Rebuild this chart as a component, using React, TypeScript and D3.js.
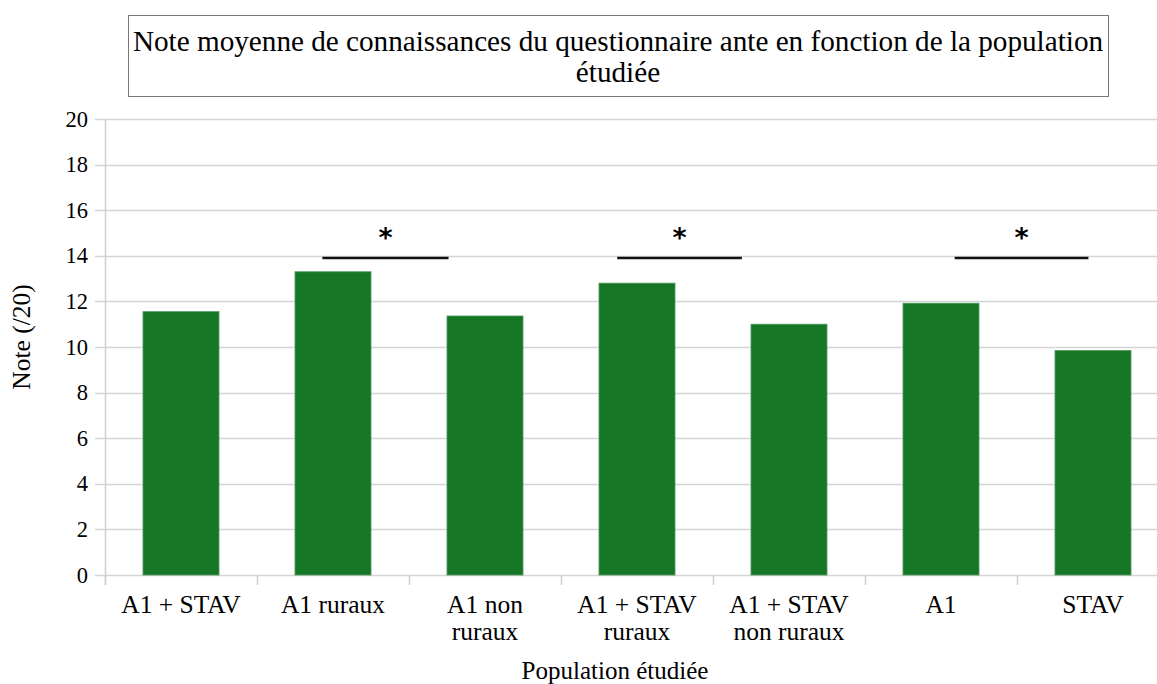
import React, { useEffect, useRef } from "react";
import * as d3 from "d3";

const categories = [
  ["A1 + STAV"],
  ["A1 ruraux"],
  ["A1 non", "ruraux"],
  ["A1 + STAV", "ruraux"],
  ["A1 + STAV", "non ruraux"],
  ["A1"],
  ["STAV"],
];
const notes = [11.55, 13.3, 11.36, 12.8, 11.0, 11.92, 9.85];
const yTicks = [0, 2, 4, 6, 8, 10, 12, 14, 16, 18, 20];
// significance bars, in category units (0 = left edge of the first band)
const sigFrom = [1.43, 3.37, 5.59];
const sigTo = [2.26, 4.19, 6.47];
const sigLevel = 13.9;

const titleLines = [
  "Note moyenne de connaissances du questionnaire ante en fonction de la population",
  "étudiée",
];

const W = 1157;
const H = 684;
const serif = "'Liberation Serif', 'Times New Roman', serif";

export default function App() {
  const ref = useRef<SVGSVGElement>(null);

  useEffect(() => {
    const svg = d3.select(ref.current);
    svg.selectAll("*").remove();

    const left = 105;
    const bandW = 152;
    const top = 119;
    const bottom = 575;
    const right = left + bandW * categories.length;

    const x = d3
      .scaleBand<number>()
      .domain(d3.range(categories.length))
      .range([left, right])
      .paddingInner(0.5)
      .paddingOuter(0.25);
    const xi = d3.scaleLinear().domain([0, categories.length]).range([left, right]);
    const y = d3.scaleLinear().domain([0, 20]).range([bottom, top]);

    // title box
    svg
      .append("rect")
      .attr("x", 128.5)
      .attr("y", 15.5)
      .attr("width", 980)
      .attr("height", 81)
      .attr("fill", "white")
      .attr("stroke", "#777")
      .attr("stroke-width", 1);
    titleLines.forEach((t, i) => {
      svg
        .append("text")
        .attr("x", 618)
        .attr("y", 51 + i * 31)
        .attr("text-anchor", "middle")
        .attr("font-family", serif)
        .attr("font-size", 29.2)
        .text(t);
    });

    // grid
    svg
      .append("g")
      .selectAll("line")
      .data(yTicks)
      .join("line")
      .attr("x1", left - 10)
      .attr("x2", W)
      .attr("y1", (d) => Math.round(y(d)) + 0.5)
      .attr("y2", (d) => Math.round(y(d)) + 0.5)
      .attr("stroke", "#d4d4d4")
      .attr("stroke-width", 1.5);

    // y axis line
    svg
      .append("line")
      .attr("x1", left + 0.5)
      .attr("x2", left + 0.5)
      .attr("y1", top)
      .attr("y2", bottom + 10)
      .attr("stroke", "#cfcfcf")
      .attr("stroke-width", 1.5);

    // x ticks at band boundaries
    svg
      .append("g")
      .selectAll("line")
      .data(d3.range(categories.length + 1))
      .join("line")
      .attr("x1", (d) => Math.round(xi(d)) + 0.5)
      .attr("x2", (d) => Math.round(xi(d)) + 0.5)
      .attr("y1", bottom)
      .attr("y2", bottom + 10)
      .attr("stroke", "#cfcfcf")
      .attr("stroke-width", 1.5);

    // y tick labels
    svg
      .append("g")
      .selectAll("text")
      .data(yTicks)
      .join("text")
      .attr("x", 88)
      .attr("y", (d) => y(d) + 7.5)
      .attr("text-anchor", "end")
      .attr("font-family", serif)
      .attr("font-size", 22.5)
      .text((d) => d);

    // bars
    svg
      .append("g")
      .selectAll("rect")
      .data(notes)
      .join("rect")
      .attr("x", (_, i) => x(i)!)
      .attr("width", x.bandwidth())
      .attr("y", (d) => y(d))
      .attr("height", (d) => y(0) - y(d))
      .attr("fill", "#157726")
      .attr("stroke", "#4f9a5c")
      .attr("stroke-width", 0.8);

    // x labels
    const xl = svg.append("g");
    categories.forEach((lines, i) => {
      lines.forEach((t, j) => {
        xl.append("text")
          .attr("x", x(i)! + x.bandwidth() / 2)
          .attr("y", 613 + j * 27)
          .attr("text-anchor", "middle")
          .attr("font-family", serif)
          .attr("font-size", 25.5)
          .text(t);
      });
    });

    // significance
    const sg = svg.append("g");
    sigFrom.forEach((f, i) => {
      const x1 = xi(f);
      const x2 = xi(sigTo[i]);
      sg.append("line")
        .attr("x1", x1)
        .attr("x2", x2)
        .attr("y1", y(sigLevel))
        .attr("y2", y(sigLevel))
        .attr("stroke", "#111")
        .attr("stroke-width", 2.5);
      sg.append("text")
        .attr("x", (x1 + x2) / 2)
        .attr("y", y(sigLevel) - 11)
        .attr("text-anchor", "middle")
        .attr("font-family", "'DejaVu Sans', sans-serif")
        .attr("font-weight", "bold")
        .attr("font-size", 27)
        .text("*");
    });

    // axis titles
    svg
      .append("text")
      .attr("x", 615)
      .attr("y", 679)
      .attr("text-anchor", "middle")
      .attr("font-family", serif)
      .attr("font-size", 25)
      .text("Population étudiée");

    svg
      .append("text")
      .attr("transform", `translate(30,337) rotate(-90)`)
      .attr("text-anchor", "middle")
      .attr("font-family", serif)
      .attr("font-size", 25.5)
      .text("Note (/20)");
  }, []);

  return (
    <svg
      ref={ref}
      width={W}
      height={H}
      style={{ position: "absolute", left: 0, top: 0, background: "white" }}
    />
  );
}
